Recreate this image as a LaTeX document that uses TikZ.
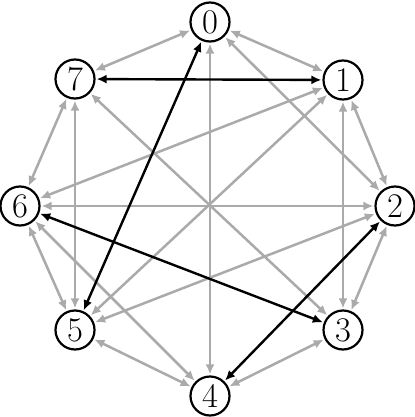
\documentclass[tikz,border=0pt]{standalone}
\usepackage{xcolor}
\usepackage{tikz}
\usetikzlibrary{arrows.meta}
\definecolor{ink}{HTML}{000000}
\definecolor{faint}{HTML}{AAAAAA}

\begin{document}
\begin{tikzpicture}[x=0.5pt,y=-0.5pt,line cap=round,
  vertex/.style={circle,draw=ink,line width=1.1pt,fill=white,minimum size=19.5pt,inner sep=0pt,font=\LARGE},
  link/.style={{Latex[length=5pt,width=4.5pt]}-{Latex[length=5pt,width=4.5pt]},line width=1.25pt,shorten <=0.5pt,shorten >=0.5pt}]
  \useasboundingbox (0,0) rectangle (415,417);
  % vertices of the octagon
  \foreach \n/\x/\y in {0/210/22,1/343/80,2/395/206,3/343/330,4/210/396,5/75/330,6/20/206,7/75/79}{
     \node[vertex] (v\n) at (\x,\y) {\n};
  }
  % light edges
  \foreach \a/\b in {0/1,1/2,2/3,3/4,4/5,5/6,6/7,7/0,0/2,1/3,5/7,4/6,1/6,2/5,0/4,1/5,2/6,3/7}{
     \draw[link,faint] (v\a) -- (v\b);
  }
  % dark edges
  \foreach \a/\b in {7/1,0/5,6/3,2/4}{
     \draw[link,ink,line width=1.2pt] (v\a) -- (v\b);
  }
\end{tikzpicture}
\end{document}
